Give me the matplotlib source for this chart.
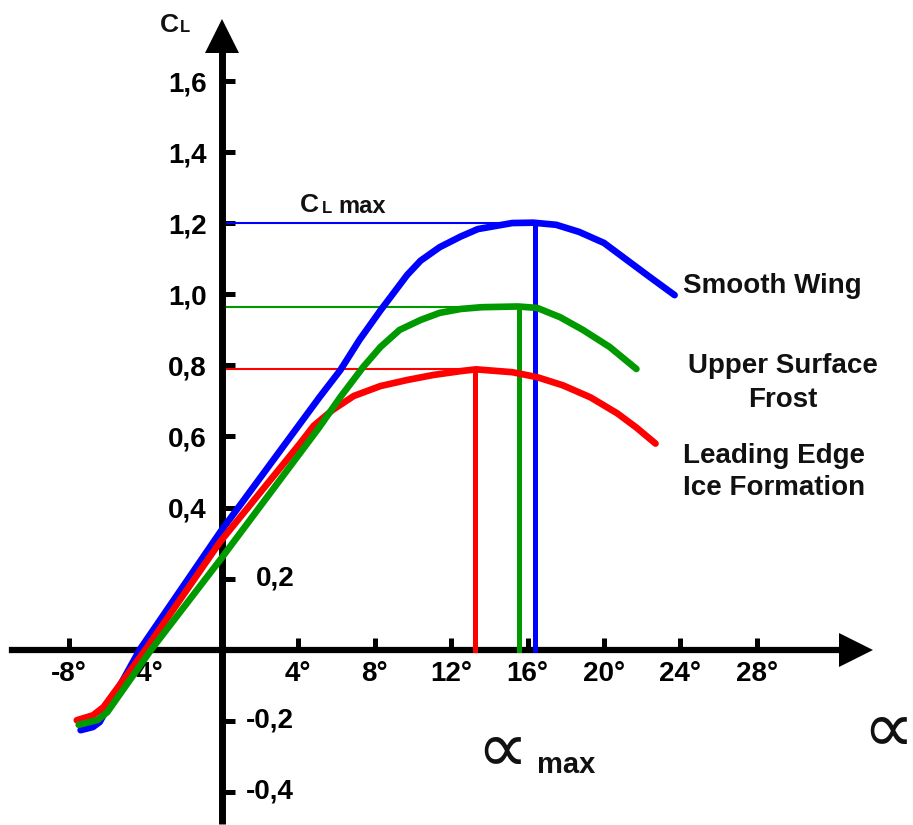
import matplotlib
matplotlib.use('Agg')
import matplotlib.pyplot as plt

# lift curves: angle of attack (deg) and CL
smooth_alpha = [-7.4, -6.75, -6.4, -4.3, -0.1, 5.1, 6.2, 7.2, 8.3, 9.0, 9.7, 10.4, 11.4,
                12.5, 13.4, 15.2, 16.3, 17.5, 18.7, 20.0, 21.2, 22.4, 23.7]
smooth_cl = [-0.227, -0.218, -0.204, 0.0, 0.33, 0.71, 0.787, 0.872, 0.955, 1.005, 1.055, 1.095, 1.133,
             1.163, 1.184, 1.201, 1.202, 1.196, 1.176, 1.145, 1.097, 1.049, 0.998]

frost_alpha = [-7.5, -6.5, -6.0, -3.7, -0.1, 5.1, 6.2, 7.4, 8.3, 9.3, 10.4, 11.4,
               12.5, 13.6, 15.5, 16.5, 17.7, 18.9, 20.3, 21.7]
frost_cl = [-0.212, -0.198, -0.176, 0.0, 0.252, 0.626, 0.711, 0.796, 0.852, 0.90, 0.928, 0.948,
            0.959, 0.964, 0.966, 0.962, 0.936, 0.90, 0.852, 0.79]

ice_alpha = [-7.6, -6.75, -6.2, -4.0, -0.1, 4.1, 4.8, 5.8, 6.9, 8.3, 9.7, 11.05, 12.5, 13.3,
             15.2, 16.5, 17.85, 19.3, 20.7, 21.7, 22.7]
ice_cl = [-0.199, -0.185, -0.162, 0.0, 0.303, 0.581, 0.63, 0.675, 0.714, 0.742, 0.759, 0.773, 0.784, 0.789,
          0.781, 0.767, 0.744, 0.71, 0.665, 0.625, 0.58]

# CL max and alpha max for each curve
cl_max = [1.20, 0.965, 0.79]
alpha_max = [16.4, 15.55, 13.25]
colors = ['#0000ff', '#009a00', '#ff0000']

xtick_vals = [-8, -4, 4, 8, 12, 16, 20, 24, 28]
xtick_labels = ['-8°', '-4°', '4°', '8°', '12°', '16°', '20°', '24°', '28°']
ytick_left = [0.4, 0.6, 0.8, 1.0, 1.2, 1.4, 1.6]
ytick_left_labels = ['0,4', '0,6', '0,8', '1,0', '1,2', '1,4', '1,6']
ytick_right = [0.2, -0.2, -0.4]
ytick_right_labels = ['0,2', '-0,2', '-0,4']

plt.rcParams['font.family'] = ['Liberation Sans', 'DejaVu Sans']

W, H = 913, 825
fig = plt.figure(figsize=(W / 100, H / 100), dpi=100)
ax = fig.add_axes([0, 0, 1, 1])
ax.set_xlim(-11.62, 36.18)
ax.set_ylim(-0.494, 1.829)

# axes crossing at the origin, drawn as thick spines with arrow heads
for s in ['top', 'right']:
    ax.spines[s].set_visible(False)
ax.spines['left'].set_position(('data', 0))
ax.spines['bottom'].set_position(('data', 0))
ax.spines['left'].set_bounds(-0.49, 1.70)
ax.spines['bottom'].set_bounds(-10.99, 32.5)
ax.spines['left'].set_linewidth(5)
ax.spines['bottom'].set_linewidth(4.5)
ax.spines['left'].set_capstyle('butt')
ax.plot(0, 1.729, marker='^', markersize=25, color='k', markeredgewidth=0, clip_on=False)
ax.plot(33.2, 0, marker='>', markersize=24, color='k', markeredgewidth=0, clip_on=False)

ax.set_xticks(xtick_vals, xtick_labels)
ax.set_yticks(ytick_left + ytick_right, ytick_left_labels + [''] * len(ytick_right))
ax.tick_params(direction='in', length=9, width=3.6, labelsize=20)
ax.tick_params(axis='x', pad=8)
ax.tick_params(axis='y', pad=11)
for lab in ax.get_xticklabels() + ax.get_yticklabels():
    lab.set_fontweight('bold')
for v, lab in zip(ytick_right, ytick_right_labels):
    ax.annotate(lab, (0, v), xytext=(52, 0), textcoords='offset points',
                ha='right', va='center', fontsize=20, fontweight='bold')

# CL max / alpha max guide lines
for c, cm, am in zip(colors, cl_max, alpha_max):
    ax.plot([0, am], [cm, cm], color=c, lw=1.5, zorder=2)
for c, cm, am in zip(colors, cl_max, alpha_max):
    ax.plot([am, am], [0, cm], color=c, lw=3.6, zorder=3)

# lift curves
ax.plot(smooth_alpha, smooth_cl, color=colors[0], lw=4.8, solid_capstyle='round',
        solid_joinstyle='round', zorder=4)
ax.plot(ice_alpha, ice_cl, color=colors[2], lw=4.8, solid_capstyle='round',
        solid_joinstyle='round', zorder=4)
ax.plot(frost_alpha, frost_cl, color=colors[1], lw=4.8, solid_capstyle='round',
        solid_joinstyle='round', zorder=4)


def ftext(x, y, s, **kw):
    # place text by pixel position in the figure
    kw.setdefault('fontweight', 'bold')
    kw.setdefault('va', 'baseline')
    fig.text(x / W, 1 - y / H, s, color='#111111', **kw)


ftext(160, 32, 'C', fontsize=19)
ftext(180, 32, 'L', fontsize=12)
ftext(300, 212, 'C', fontsize=19)
ftext(322, 213, 'L', fontsize=12)
ftext(338, 213, 'max', fontsize=17)

ftext(683, 293, 'Smooth Wing', fontsize=20)
ftext(783, 373, 'Upper Surface', fontsize=20, ha='center')
ftext(783, 407, 'Frost', fontsize=20, ha='center')
ftext(683, 463, 'Leading Edge', fontsize=20)
ftext(683, 495, 'Ice Formation', fontsize=20)

ftext(476, 753, '∝', fontsize=52, fontweight='normal', va='center')
ftext(537, 773, 'max', fontsize=21)
ftext(862, 733, '∝', fontsize=52, fontweight='normal', va='center')

fig.savefig('out.png', dpi=100, facecolor='white')
